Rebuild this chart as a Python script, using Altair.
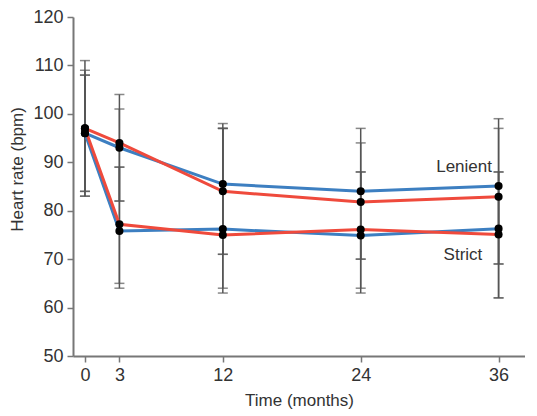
import altair as alt
import pandas as pd

months = [0, 3, 12, 24, 36]

lenient_blue = [96, 93, 85.5, 84, 85.1]
lenient_red = [97, 94, 84, 81.8, 82.9]
strict_blue = [96, 75.8, 76.2, 74.9, 76.3]
strict_red = [97, 77.2, 75, 76.1, 75.1]

lenient_blue_lo = [84, 82, 71, 70, 69]
lenient_blue_hi = [108, 101, 98, 97, 99]
lenient_red_lo = [83, 82, 71, 70, 69]
lenient_red_hi = [111, 104, 97, 94, 97]
strict_blue_lo = [84, 64, 64, 63, 62]
strict_blue_hi = [108, 89, 97, 88, 88]
strict_red_lo = [83, 65, 63, 64, 62]
strict_red_hi = [109, 89, 97, 88, 88]

series = [
    ("Lenient", "Blue", lenient_blue, lenient_blue_lo, lenient_blue_hi),
    ("Lenient", "Red", lenient_red, lenient_red_lo, lenient_red_hi),
    ("Strict", "Blue", strict_blue, strict_blue_lo, strict_blue_hi),
    ("Strict", "Red", strict_red, strict_red_lo, strict_red_hi),
]

rows = []
for grp, arm, vals, lo, hi in series:
    for i, m in enumerate(months):
        rows.append({"month": m, "group": grp, "arm": arm,
                     "series": grp + " " + arm,
                     "value": vals[i], "lo": lo[i], "hi": hi[i]})
df = pd.DataFrame(rows)

caps = pd.concat([
    df[["month", "lo"]].rename(columns={"lo": "cap"}),
    df[["month", "hi"]].rename(columns={"hi": "cap"}),
])

label_text = ["Lenient", "Strict"]
label_month = [33.0, 32.9]
label_value = [89.0, 70.8]
labels = pd.DataFrame({"text": label_text, "month": label_month, "value": label_value})

xscale = alt.Scale(domain=[-1.04, 38.3], nice=False, zero=False)
yscale = alt.Scale(domain=[50, 120], nice=False, zero=False)

xax = alt.X("month:Q", scale=xscale,
            axis=alt.Axis(values=months, title="Time (months)", grid=False))
yax = alt.Y("value:Q", scale=yscale,
            axis=alt.Axis(values=list(range(50, 121, 10)), title="Heart rate (bpm)",
                          grid=False, titleY=152))

err = alt.Chart(df).mark_rule(color="#555555", strokeWidth=1.5).encode(
    x=alt.X("month:Q", scale=xscale),
    y=alt.Y("lo:Q", scale=yscale),
    y2="hi:Q",
)

cap_marks = alt.Chart(caps).mark_tick(color="#555555", orient="horizontal",
                                      size=10, thickness=1.5).encode(
    x=alt.X("month:Q", scale=xscale),
    y=alt.Y("cap:Q", scale=yscale),
)

lines = alt.Chart(df).mark_line(strokeWidth=3).encode(
    x=xax,
    y=yax,
    color=alt.Color("arm:N", scale=alt.Scale(domain=["Blue", "Red"],
                                             range=["#3d7fc1", "#ef4a3c"]), legend=None),
    detail="series:N",
    order=alt.Order("month:Q"),
)

lines_blue = lines.transform_filter(alt.datum.arm == "Blue")
lines_red = lines.transform_filter(alt.datum.arm == "Red")

dots = alt.Chart(df).mark_circle(color="black", size=65, opacity=1).encode(
    x=alt.X("month:Q", scale=xscale),
    y=alt.Y("value:Q", scale=yscale),
)

text = alt.Chart(labels).mark_text(fontSize=17, color="#333333", font="Liberation Sans").encode(
    x=alt.X("month:Q", scale=xscale),
    y=alt.Y("value:Q", scale=yscale),
    text="text:N",
)

chart = alt.layer(err, cap_marks, lines_blue, lines_red, dots, text).properties(
    width=452, height=339,
    padding={"left": 0, "top": 0, "right": 0, "bottom": 5},
).configure_view(stroke=None).configure_axis(
    domainColor="#777777", domainWidth=2, tickColor="#777777", tickWidth=1.5, tickSize=6,
    labelFont="Liberation Sans", labelFontSize=18, labelColor="#333333",
    titleFont="Liberation Sans", titleFontSize=17, titleColor="#333333", titleFontWeight="normal",
    labelPadding=4,
).configure_axisY(titlePadding=6).configure_axisX(titlePadding=8)

chart.save("out.html", embed_options={"renderer": "svg", "actions": False})
